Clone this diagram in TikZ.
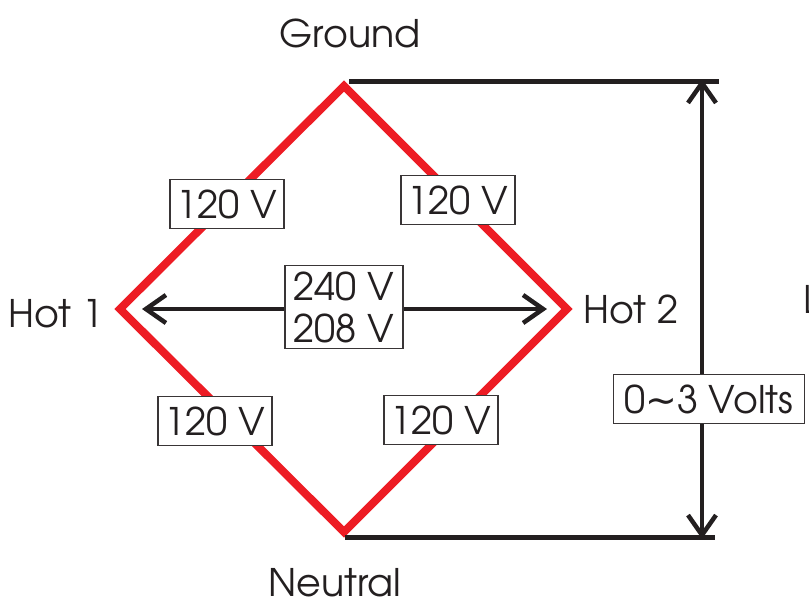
\documentclass[tikz,border=0pt]{standalone}
\usepackage{fontspec}
\setmainfont{TeX Gyre Adventor}
\newfontfamily\symf{DejaVu Sans}
\usetikzlibrary{arrows.meta}
\definecolor{wire}{HTML}{ED1C24}
\definecolor{ink}{HTML}{231F20}
\begin{document}
\begin{tikzpicture}[x=1pt,y=-1pt,
  lbl/.style={font=\fontsize{38}{42}\selectfont, text=ink, inner sep=0pt},
  vbox/.style={lbl, draw=ink!90, line width=1.5pt, fill=white, inner xsep=7pt, inner ysep=10pt, text height=29pt, text depth=0pt},
  wireline/.style={draw=wire, line width=8pt, line join=miter},
  rail/.style={draw=ink, line width=5pt},
  dbl/.style={draw=ink, line width=4.5pt, {Straight Barb[length=20pt,width=28pt]}-{Straight Barb[length=20pt,width=28pt]}}
]
\useasboundingbox (0,0) rectangle (809,600);
% diamond vertices
\coordinate (T) at (344,86);
\coordinate (L) at (120,309);
\coordinate (B) at (344,532);
\coordinate (R) at (567,309);
\draw[wireline] (T) -- (R) -- (B) -- (L) -- cycle;
% rails
\coordinate (topA) at (349,81);
\coordinate (topB) at (719,81);
\coordinate (botA) at (345,537);
\coordinate (botB) at (715,537);
\draw[rail] (topA) -- (topB);
\draw[rail] (botA) -- (botB);
% arrows
\coordinate (vt) at (702,79);
\coordinate (vb) at (702,539);
\draw[dbl] (vt) -- (vb);
\coordinate (hl) at (142,309);
\coordinate (hr) at (547,309);
\draw[dbl] (hl) -- (hr);
% boxes
\node[vbox] (tl) at (227,204) {120 V};
\node[vbox] (tr) at (458,200) {120 V};
\node[vbox] (bl) at (215,421) {120 V};
\node[vbox] (br) at (441,420) {120 V};
\node[vbox, text height=, text depth=, align=center, inner xsep=9pt, inner ysep=6pt, font=\fontsize{38}{42}\selectfont] (mid) at (344,307) {240 V\\208 V};
\node[vbox, inner xsep=11pt] (volts) at (709,399) {0{\symf ∼}3 Volts};
% vertex labels
\node[lbl, anchor=base] (gnd) at (350,47) {Ground};
\node[lbl, anchor=base] (neu) at (335,596) {Neutral};
\node[lbl, anchor=base] (h1) at (56,327) {Hot 1};
\node[lbl, anchor=base] (h2) at (631,323) {Hot 2};
\node[lbl, anchor=base west] (cut) at (803,313) {L};
\end{tikzpicture}
\end{document}
